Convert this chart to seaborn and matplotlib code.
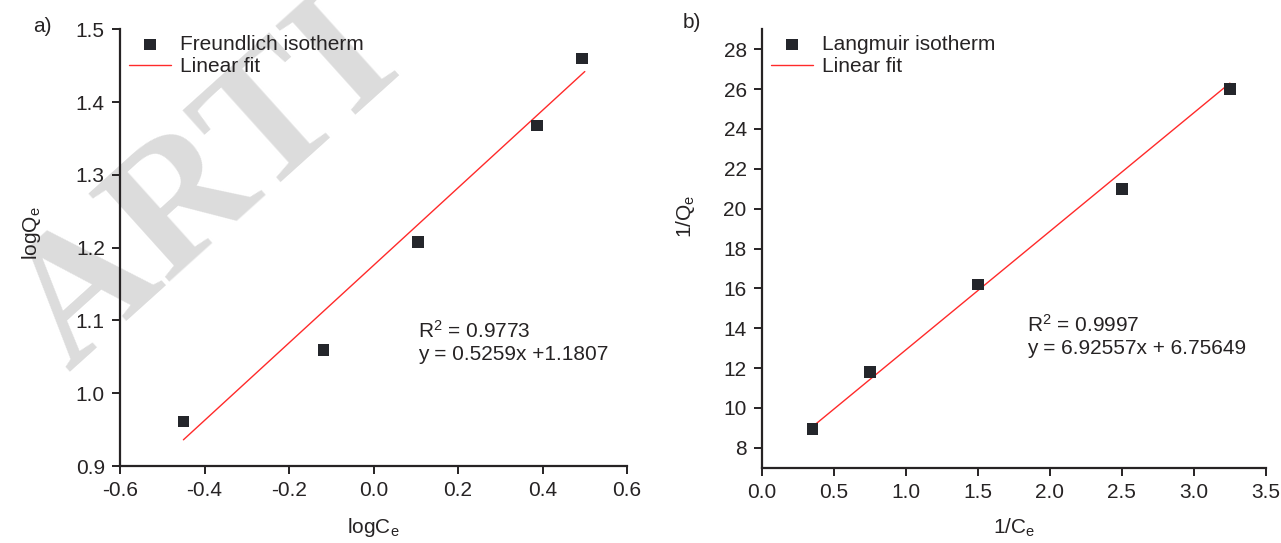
import matplotlib
matplotlib.use("Agg")
import numpy as np
import pandas as pd
import seaborn as sns
from matplotlib import pyplot as plt

# Freundlich (panel a)
log_ce = [-0.45, -0.118, 0.105, 0.387, 0.494]
log_qe = [0.961, 1.059, 1.208, 1.368, 1.460]
fit_a_x = [-0.45, 0.50]
fit_a_y = [0.936, 1.442]

# Langmuir (panel b)
inv_ce = [0.35, 0.75, 1.50, 2.50, 3.25]
inv_qe = [8.95, 11.8, 16.2, 21.0, 26.0]
fit_b_x = [0.35, 3.25]
fit_b_y = [9.05, 26.3]

text_col = "#262324"
marker_col = "#24262b"
red = "#ff2a2a"
fs = 15

sns.set_theme(style="ticks")
plt.rcParams["font.family"] = ["Liberation Sans", "DejaVu Sans"]
plt.rcParams["mathtext.fontset"] = "custom"
plt.rcParams["mathtext.rm"] = "Liberation Sans"
plt.rcParams["mathtext.it"] = "Liberation Sans"
plt.rcParams["text.color"] = text_col
plt.rcParams["axes.labelcolor"] = text_col
plt.rcParams["xtick.color"] = text_col
plt.rcParams["ytick.color"] = text_col

fig = plt.figure(figsize=(12.81, 5.43), dpi=100)

# watermark, drawn behind the axes
fig.text(0.053, 0.315, "ARTI", rotation=42, rotation_mode="anchor",
         fontsize=132, family="Liberation Serif", weight="bold",
         color="#dcdcdc", ha="left", va="baseline", zorder=-5)

ax1 = fig.add_axes([0.0937, 0.1418, 0.3958, 0.8042])
ax2 = fig.add_axes([0.5948, 0.1387, 0.3934, 0.8073])


def draw_panel(ax, x, y, fx, fy, name):
    ax.patch.set_alpha(0)
    df = pd.DataFrame({"x": x, "y": y})
    sns.scatterplot(data=df, x="x", y="y", marker="s", s=70, color=marker_col,
                    edgecolor="none", ax=ax, label=name, zorder=3)
    fit = pd.DataFrame({"x": fx, "y": fy})
    sns.lineplot(data=fit, x="x", y="y", color=red, lw=1.0, ax=ax, label="Linear fit", zorder=2)
    sns.despine(ax=ax)
    for s in ("left", "bottom"):
        ax.spines[s].set_color(text_col)
        ax.spines[s].set_linewidth(1.6)
    ax.tick_params(direction="out", length=6, width=1.4, labelsize=fs, pad=5)
    leg = ax.legend(loc="upper left", frameon=False, fontsize=fs, handlelength=2.0,
                    handletextpad=0.45, borderaxespad=0.0, labelspacing=0.15,
                    bbox_to_anchor=(0.002, 1.006))
    for t in leg.get_texts():
        t.set_color(text_col)


draw_panel(ax1, log_ce, log_qe, fit_a_x, fit_a_y, "Freundlich isotherm")
ax1.set_xlim(-0.6, 0.6)
ax1.set_ylim(0.9, 1.5)
ax1.set_xticks(np.arange(-0.6, 0.61, 0.2))
ax1.set_xticklabels(["-0.6", "-0.4", "-0.2", "0.0", "0.2", "0.4", "0.6"])
ax1.set_yticks(np.arange(0.9, 1.51, 0.1))
ax1.set_yticklabels(["0.9", "1.0", "1.1", "1.2", "1.3", "1.4", "1.5"])
ax1.set_xlabel(r"logC$_\mathregular{e}$", fontsize=fs)
ax1.set_ylabel(r"logQ$_\mathregular{e}$", fontsize=fs)
ax1.xaxis.set_label_coords(0.5, -0.115)
ax1.yaxis.set_label_coords(-0.152, 0.534)
ax1.text(0.588, 0.309, r"R$^\mathregular{2}$ = 0.9773", transform=ax1.transAxes,
         fontsize=fs, va="center")
ax1.text(0.588, 0.256, "y = 0.5259x +1.1807", transform=ax1.transAxes,
         fontsize=fs, va="center")
fig.text(42 / 1281, 1 - 26 / 543, "a)", fontsize=fs, ha="center", va="center")

draw_panel(ax2, inv_ce, inv_qe, fit_b_x, fit_b_y, "Langmuir isotherm")
ax2.set_xlim(0, 3.5)
ax2.set_ylim(7, 29)
ax2.set_xticks(np.arange(0, 3.51, 0.5))
ax2.set_xticklabels(["0.0", "0.5", "1.0", "1.5", "2.0", "2.5", "3.0", "3.5"])
ax2.set_yticks(np.arange(8, 29, 2))
ax2.set_xlabel(r"1/C$_\mathregular{e}$", fontsize=fs)
ax2.set_ylabel(r"1/Q$_\mathregular{e}$", fontsize=fs)
ax2.xaxis.set_label_coords(0.5, -0.112)
ax2.yaxis.set_label_coords(-0.128, 0.574)
ax2.text(0.526, 0.325, r"R$^\mathregular{2}$ = 0.9997", transform=ax2.transAxes,
         fontsize=fs, va="center")
ax2.text(0.526, 0.273, "y = 6.92557x + 6.75649", transform=ax2.transAxes,
         fontsize=fs, va="center")
fig.text(692 / 1281, 1 - 22 / 543, "b)", fontsize=fs, ha="center", va="center")

fig.savefig("out.png", dpi=100)
